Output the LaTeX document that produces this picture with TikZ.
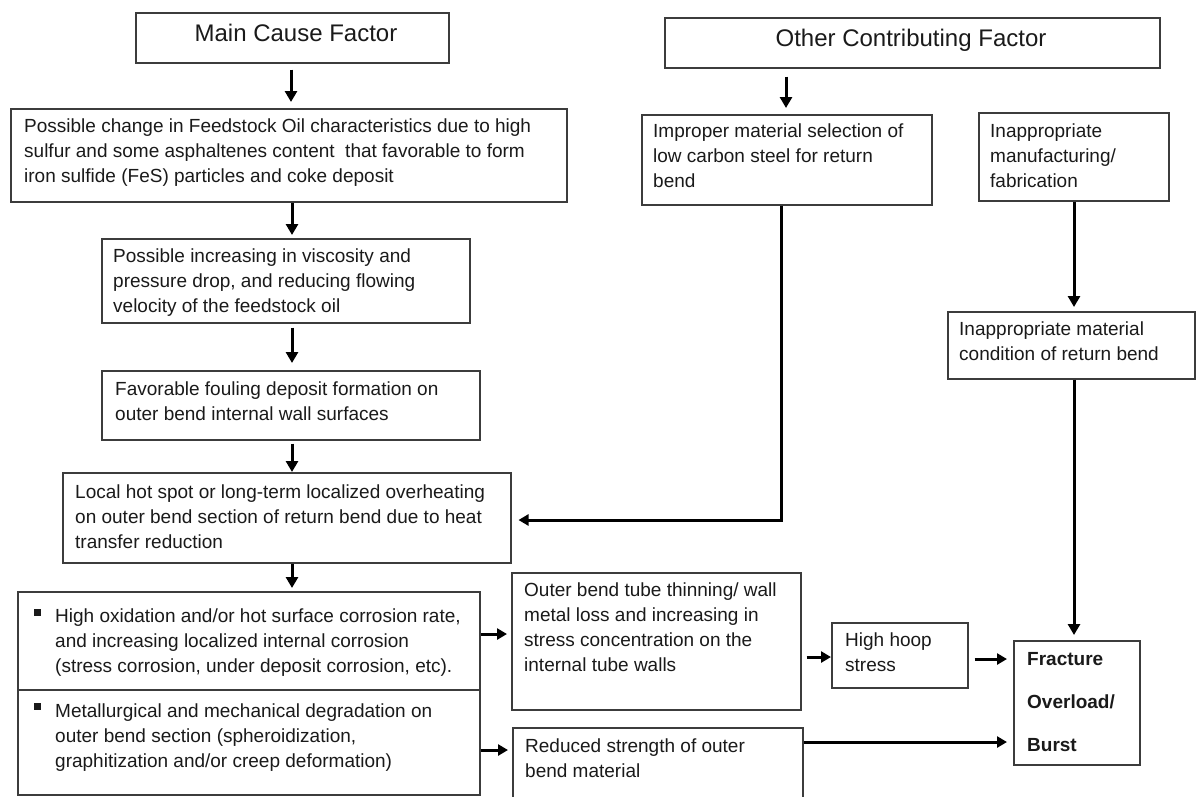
\documentclass[tikz,border=0pt]{standalone}
\usepackage{fontspec}
\setmainfont{Liberation Sans}
\usetikzlibrary{arrows.meta}
\definecolor{boxline}{HTML}{3C3C3C}
\definecolor{ink}{HTML}{1A1A1A}
\begin{document}
\begin{tikzpicture}[x=1pt,y=-1pt,
 box/.style={draw=boxline, line width=1.5pt, fill=white, inner sep=0pt, anchor=north west},
 txt/.style={inner sep=0pt, anchor=north west, align=left, text=ink, font=\fontsize{19}{25}\selectfont},
 boldtxt/.style={inner sep=0pt, anchor=north west, align=left, text=ink, font=\fontsize{19}{43}\selectfont\bfseries},
 ttl/.style={inner sep=0pt, anchor=base, text=ink, font=\fontsize{24}{28}\selectfont},
 arr/.style={draw=black, line width=3pt, -{Triangle[length=11pt,width=12pt]}},
 harr/.style={draw=black, line width=3pt, -{Triangle[length=10pt,width=11pt]}},
 bul/.style={fill=ink, inner sep=0pt, minimum width=7pt, minimum height=7pt}
]
\clip (0,0) rectangle (1196,796);
\fill[white] (0,0) rectangle (1196,796);

% ---------- main cause column ----------
\node[box, minimum width=313pt, minimum height=50pt] (mc) at (135,12) {};
\node[ttl] (mct) at (296,41) {Main Cause Factor};

\node[box, minimum width=556pt, minimum height=93pt] (b2) at (10,108) {};
\node[txt] (b2t) at (24,114.5) {\strut Possible change in Feedstock Oil characteristics due to high\\
sulfur and some asphaltenes content\ \ that favorable to form\\
iron sulfide (FeS) particles and coke deposit};

\node[box, minimum width=368pt, minimum height=84pt] (b3) at (101,238) {};
\node[txt] (b3t) at (113,244.5) {\strut Possible increasing in viscosity and\\
pressure drop, and reducing flowing\\
velocity of the feedstock oil};

\node[box, minimum width=378pt, minimum height=69pt] (b4) at (101,370) {};
\node[txt] (b4t) at (115,377.5) {\strut Favorable fouling deposit formation on\\
outer bend internal wall surfaces};

\node[box, minimum width=448pt, minimum height=90pt] (b5) at (62,472) {};
\node[txt] (b5t) at (75,480.5) {\strut Local hot spot or long-term localized overheating\\
on outer bend section of return bend due to heat\\
transfer reduction};

\node[box, minimum width=462pt, minimum height=98pt] (b6a) at (17,591) {};
\node[box, minimum width=462pt, minimum height=105pt] (b6b) at (17,689) {};
\node[bul] (bl1) at (37,612) {};
\node[bul] (bl2) at (37,706) {};
\node[txt] (b6at) at (55,604.5) {\strut High oxidation and/or hot surface corrosion rate,\\
and increasing localized internal corrosion\\
(stress corrosion, under deposit corrosion, etc).};
\node[txt] (b6bt) at (55,699.5) {\strut Metallurgical and mechanical degradation on\\
outer bend section (spheroidization,\\
graphitization and/or creep deformation)};

\node[box, minimum width=289pt, minimum height=137pt] (b7) at (511,572) {};
\node[txt] (b7t) at (524,578.5) {\strut Outer bend tube thinning/ wall\\
metal loss and increasing in\\
stress concentration on the\\
internal tube walls};

\node[box, minimum width=290pt, minimum height=95pt] (b8) at (512,727) {};
\node[txt] (b8t) at (525,734.5) {\strut Reduced strength of outer\\
bend material};

\node[box, minimum width=136pt, minimum height=65pt] (hoop) at (831,622) {};
\node[txt] (hoopt) at (845,628.5) {\strut High hoop\\ stress};

\node[box, minimum width=126pt, minimum height=124pt] (frac) at (1013,640) {};
\node[boldtxt] (fract) at (1027,634.9) {\strut Fracture\\ Overload/\\ Burst};

% ---------- other contributing column ----------
\node[box, minimum width=495pt, minimum height=50pt] (oc) at (664,17) {};
\node[ttl] (oct) at (911,46) {Other Contributing Factor};

\node[box, minimum width=290pt, minimum height=90pt] (imp) at (641,114) {};
\node[txt] (impt) at (653,119.5) {\strut Improper material selection of\\
low carbon steel for return\\
bend};

\node[box, minimum width=190pt, minimum height=88pt] (man) at (978,112) {};
\node[txt] (mant) at (990,119.5) {\strut Inappropriate\\
manufacturing/\\
fabrication};

\node[box, minimum width=247pt, minimum height=67pt] (cond) at (947,311) {};
\node[txt] (condt) at (959,317.5) {\strut Inappropriate material\\
condition of return bend};

% ---------- connectors ----------
\coordinate (ax1) at (291,0);
\coordinate (ax2) at (292,0);
\draw[arr, shorten <=6pt, shorten >=6pt] (mc.south -| ax1) -- (b2.north -| ax1);
\draw[arr, shorten >=3pt] (b2.south -| ax2) -- (b3.north -| ax2);
\draw[arr, shorten <=4pt, shorten >=7pt] (b3.south -| ax2) -- (b4.north -| ax2);
\draw[arr, shorten <=3pt] (b4.south -| ax2) -- (b5.north -| ax2);
\draw[arr, shorten >=3pt] (b5.south -| ax2) -- (b6a.north -| ax2);

\coordinate (ax3) at (786,0);
\draw[arr, shorten <=8pt, shorten >=6pt] (oc.south -| ax3) -- (imp.north -| ax3);
\coordinate (ax4) at (781,0);
\coordinate (ay4) at (0,520);
\draw[harr, shorten >=7pt] (imp.south -| ax4) |- (b5.east |- ay4);

\coordinate (ax5) at (1074,0);
\draw[arr, shorten >=4pt] (man.south -| ax5) -- (cond.north -| ax5);
\draw[arr, shorten >=5pt] (cond.south -| ax5) -- (frac.north -| ax5);

\coordinate (ay6) at (0,634);
\coordinate (ay7) at (0,750);
\draw[harr, shorten >=4pt] (b6a.east |- ay6) -- (b7.west |- ay6);
\draw[harr, shorten >=4pt] (b6b.east |- ay7) -- (b8.west |- ay7);
\coordinate (ay8) at (0,657);
\draw[harr, shorten <=5pt] (b7.east |- ay8) -- (hoop.west |- ay8);
\coordinate (ay9) at (0,659);
\draw[harr, shorten <=6pt, shorten >=6pt] (hoop.east |- ay9) -- (frac.west |- ay9);
\coordinate (ay10) at (0,742);
\draw[harr, shorten >=6pt] (b8.east |- ay10) -- (frac.west |- ay10);
\end{tikzpicture}
\end{document}
